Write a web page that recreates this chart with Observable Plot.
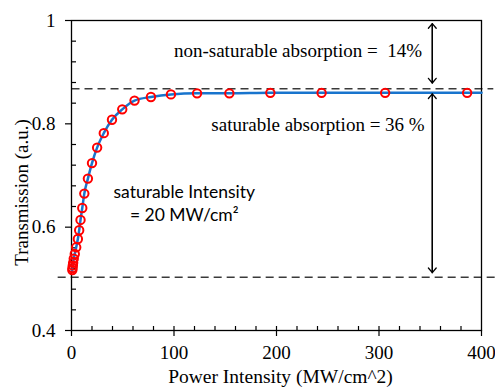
<!DOCTYPE html>
<html><head><meta charset="utf-8">
<script src="https://cdn.jsdelivr.net/npm/d3@7"></script>
<script src="https://cdn.jsdelivr.net/npm/@observablehq/plot@0.6"></script>
<style>body{margin:0;background:#fff;}</style>
</head><body><div id="chart"></div>
<script>
const powerIntensity = [0.8, 1.0, 1.3, 1.6, 2.2, 3.2, 4.6, 6.2, 7.5, 8.8, 10.5, 12.5, 16, 20, 25, 31.5, 39.5, 49.5, 61.5, 77.5, 97, 122.5, 154, 194, 244, 306, 386];
const transmission   = [0.517, 0.521, 0.526, 0.531, 0.539, 0.548, 0.561, 0.577, 0.594, 0.614, 0.637, 0.665, 0.694, 0.724, 0.754, 0.782, 0.808, 0.828, 0.845, 0.852, 0.857, 0.859, 0.859, 0.86, 0.86, 0.86, 0.86];
// fitted curve
const fitIntensity    = [0.5, 1.3, 2.2, 3.2, 4.6, 6.2, 7.5, 8.8, 10.5, 12.5, 16, 20, 25, 31.5, 39.5, 49.5, 61.5, 77.5, 97, 122.5, 154, 194, 244, 306, 386, 400];
const fitTransmission = [0.515, 0.526, 0.539, 0.548, 0.561, 0.577, 0.594, 0.614, 0.637, 0.665, 0.694, 0.724, 0.754, 0.782, 0.808, 0.828, 0.845, 0.852, 0.857, 0.859, 0.859, 0.86, 0.86, 0.86, 0.86, 0.86];

const xTicks = [0, 100, 200, 300, 400];
const yTicks = [0.4, 0.6, 0.8, 1];
const xMinorTicks = [20, 40, 60, 80, 100, 120, 140, 160, 180, 200, 220, 240, 260, 280, 300, 320, 340, 360, 380];
const yMinorTicks = [0.44, 0.48, 0.52, 0.56, 0.64, 0.68, 0.72, 0.76, 0.84, 0.88, 0.92, 0.96];
const xLabel = "Power Intensity (MW/cm^2)";
const yLabel = "Transmission (a.u.)";

// reference levels
const dashLevels = [0.868, 0.503];
const dashFrom = [0.5, -13];
const dashTo = [412, 414];

// arrows: x, from, to
const arrowX = [352, 352];
const arrowTop = [0.994, 0.858];
const arrowBottom = [0.879, 0.512];

// annotations
const serifNotes = ["non-saturable absorption =\u00a0 14%", "saturable absorption = 36 %"];
const serifNoteX = [221, 240.5];
const serifNoteY = [0.942, 0.797];
const sansNotes = ["saturable Intensity", "= 20 MW/cm\u00b2"];
const sansNoteX = [110, 110];
const sansNoteY = [0.667, 0.623];

const points = powerIntensity.map((x, i) => ({x, y: transmission[i]}));
const fit = fitIntensity.map((x, i) => ({x, y: fitTransmission[i]}));
const dashes = dashLevels.map((y, i) => ({y, x1: dashFrom[i], x2: dashTo[i]}));
const arrows = arrowX.map((x, i) => ({x, a: arrowTop[i], b: arrowBottom[i]}));
const sNotes = serifNotes.map((t, i) => ({t, x: serifNoteX[i], y: serifNoteY[i]}));
const cNotes = sansNotes.map((t, i) => ({t, x: sansNoteX[i], y: sansNoteY[i]}));

const serif = "Liberation Serif";
const sans = "Lato";

const chart = Plot.plot({
  width: 495,
  height: 387,
  marginLeft: 71,
  marginTop: 20,
  marginRight: 14,
  marginBottom: 57,
  style: {fontFamily: serif, fontSize: "19px", color: "#000", background: "#fff", overflow: "visible"},
  x: {domain: [0, 400]},
  y: {domain: [0.4, 1]},
  marks: [
    Plot.ruleY(dashes, {y: "y", x1: "x1", x2: "x2", stroke: "#3a3a3a", strokeWidth: 1.5, strokeDasharray: "8,5"}),
    Plot.tickX(xMinorTicks, {x: d => d, insetTop: 306, stroke: "#000", strokeWidth: 1.2}),
    Plot.tickY(yMinorTicks, {y: d => d, insetRight: 405, stroke: "#000", strokeWidth: 1.2}),
    Plot.axisX(xTicks, {tickSize: 6, tickPadding: 9, fontSize: 19, fontFamily: serif, strokeWidth: 1.2, label: null}),
    Plot.axisY(yTicks, {tickSize: 6, tickPadding: 10, fontSize: 19, fontFamily: serif, strokeWidth: 1.2,
      tickFormat: d => d === 1 ? "1" : d.toFixed(1), label: null}),
    Plot.text([xLabel], {text: d => d, frameAnchor: "bottom", textAnchor: "middle", lineAnchor: "middle", dx: 4, dy: 46, fontFamily: serif, fontSize: 19.5, fill: "#000"}),
    Plot.text([yLabel], {text: d => d, frameAnchor: "left", rotate: -90, textAnchor: "middle", lineAnchor: "middle", dx: -50, dy: 17, fontFamily: serif, fontSize: 19, fill: "#000"}),
    Plot.frame({stroke: "#000", strokeWidth: 1.3}),
    Plot.line(fit, {x: "x", y: "y", curve: "monotone-x", stroke: "#1874cd", strokeWidth: 2.5}),
    Plot.dot(points, {x: "x", y: "y", r: 4.2, stroke: "#ff0000", strokeWidth: 2, fill: "none"}),
    Plot.arrow(arrows, {x: "x", y1: "a", y2: "b", stroke: "#000", strokeWidth: 1.3, headLength: 7, headAngle: 80}),
    Plot.arrow(arrows, {x: "x", y1: "b", y2: "a", stroke: "#000", strokeWidth: 1.3, headLength: 7, headAngle: 80}),
    Plot.text(sNotes, {x: "x", y: "y", text: "t", fontFamily: serif, fontSize: 19, fill: "#000"}),
    Plot.text(cNotes, {x: "x", y: "y", text: "t", fontFamily: sans, fontSize: 17.5, fill: "#000"})
  ]
});
document.getElementById("chart").appendChild(chart);
</script>
</body></html>
